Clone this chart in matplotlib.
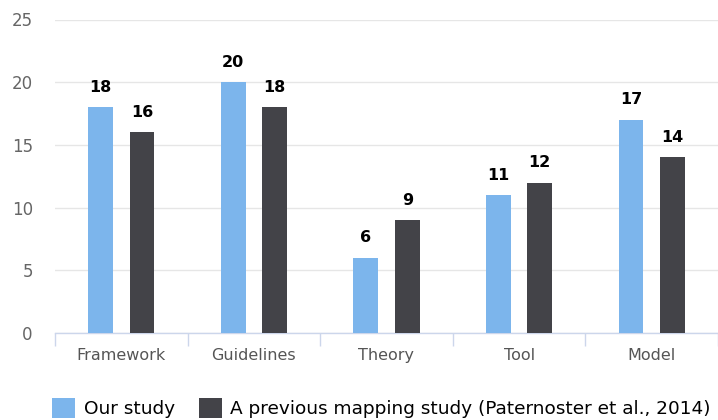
import matplotlib
matplotlib.use("Agg")
import matplotlib.pyplot as plt
from matplotlib.patches import Patch
import numpy as np

categories = ["Framework", "Guidelines", "Theory", "Tool", "Model"]
our_study = [18, 20, 6, 11, 17]
previous_study = [16, 18, 9, 12, 14]
series_names = ["Our study", "A previous mapping study (Paternoster et al., 2014)"]
yticks = [0, 5, 10, 15, 20, 25]

blue = "#7cb5ec"
dark = "#434348"

W, H = 718, 420
fig = plt.figure(figsize=(W / 100, H / 100), dpi=100)
left_px, right_px = 55, 718
top_px, bottom_px = 19.5, 333
ax = fig.add_axes([left_px / W, 1 - bottom_px / H, (right_px - left_px) / W, (bottom_px - top_px) / H])

cat_px = 134.5
x = np.arange(len(categories))
bw = 25 / cat_px
off = 21 / cat_px
b1 = ax.bar(x - off, our_study, bw, color=blue, zorder=3)
b2 = ax.bar(x + off, previous_study, bw, color=dark, zorder=3)

for bars, vals in ((b1, our_study), (b2, previous_study)):
    for rect, v in zip(bars, vals):
        ax.annotate(str(v), (rect.get_x() + rect.get_width() / 2, v),
                    xytext=(0, 9), textcoords="offset points",
                    ha="center", va="bottom", fontsize=11.5, fontweight="bold", color="#000000")

ax.set_xlim(-0.5, -0.5 + (right_px - left_px) / cat_px)
ax.set_ylim(0, 25)
ax.set_yticks(yticks)
ax.set_yticklabels([str(t) for t in yticks], fontsize=12, color="#666666")
ax.tick_params(axis="y", length=0, pad=16)
ax.grid(axis="y", color="#e6e6e6", linewidth=1, zorder=0)

ax.set_xticks(x)
ax.set_xticklabels(categories, fontsize=11.5, color="#555555")
ax.tick_params(axis="x", length=0, pad=11)
# category boundary ticks
ax.set_xticks(np.arange(len(categories) + 1) - 0.5, minor=True)
ax.tick_params(axis="x", which="minor", length=9, color="#ccd6eb", width=1)

for s in ("top", "right", "left"):
    ax.spines[s].set_visible(False)
ax.spines["bottom"].set_color("#ccd6eb")
ax.spines["bottom"].set_linewidth(1)

handles = [Patch(facecolor=blue, edgecolor="none"), Patch(facecolor=dark, edgecolor="none")]
leg = fig.legend(handles, series_names, loc="center left", bbox_to_anchor=(45 / W, 1 - 408 / H),
                 ncol=2, frameon=False, fontsize=13.3, handlelength=1.25, handleheight=1.25,
                 handletextpad=0.45, columnspacing=1.3, borderaxespad=0)

fig.savefig("out.png", dpi=100, facecolor="white")
